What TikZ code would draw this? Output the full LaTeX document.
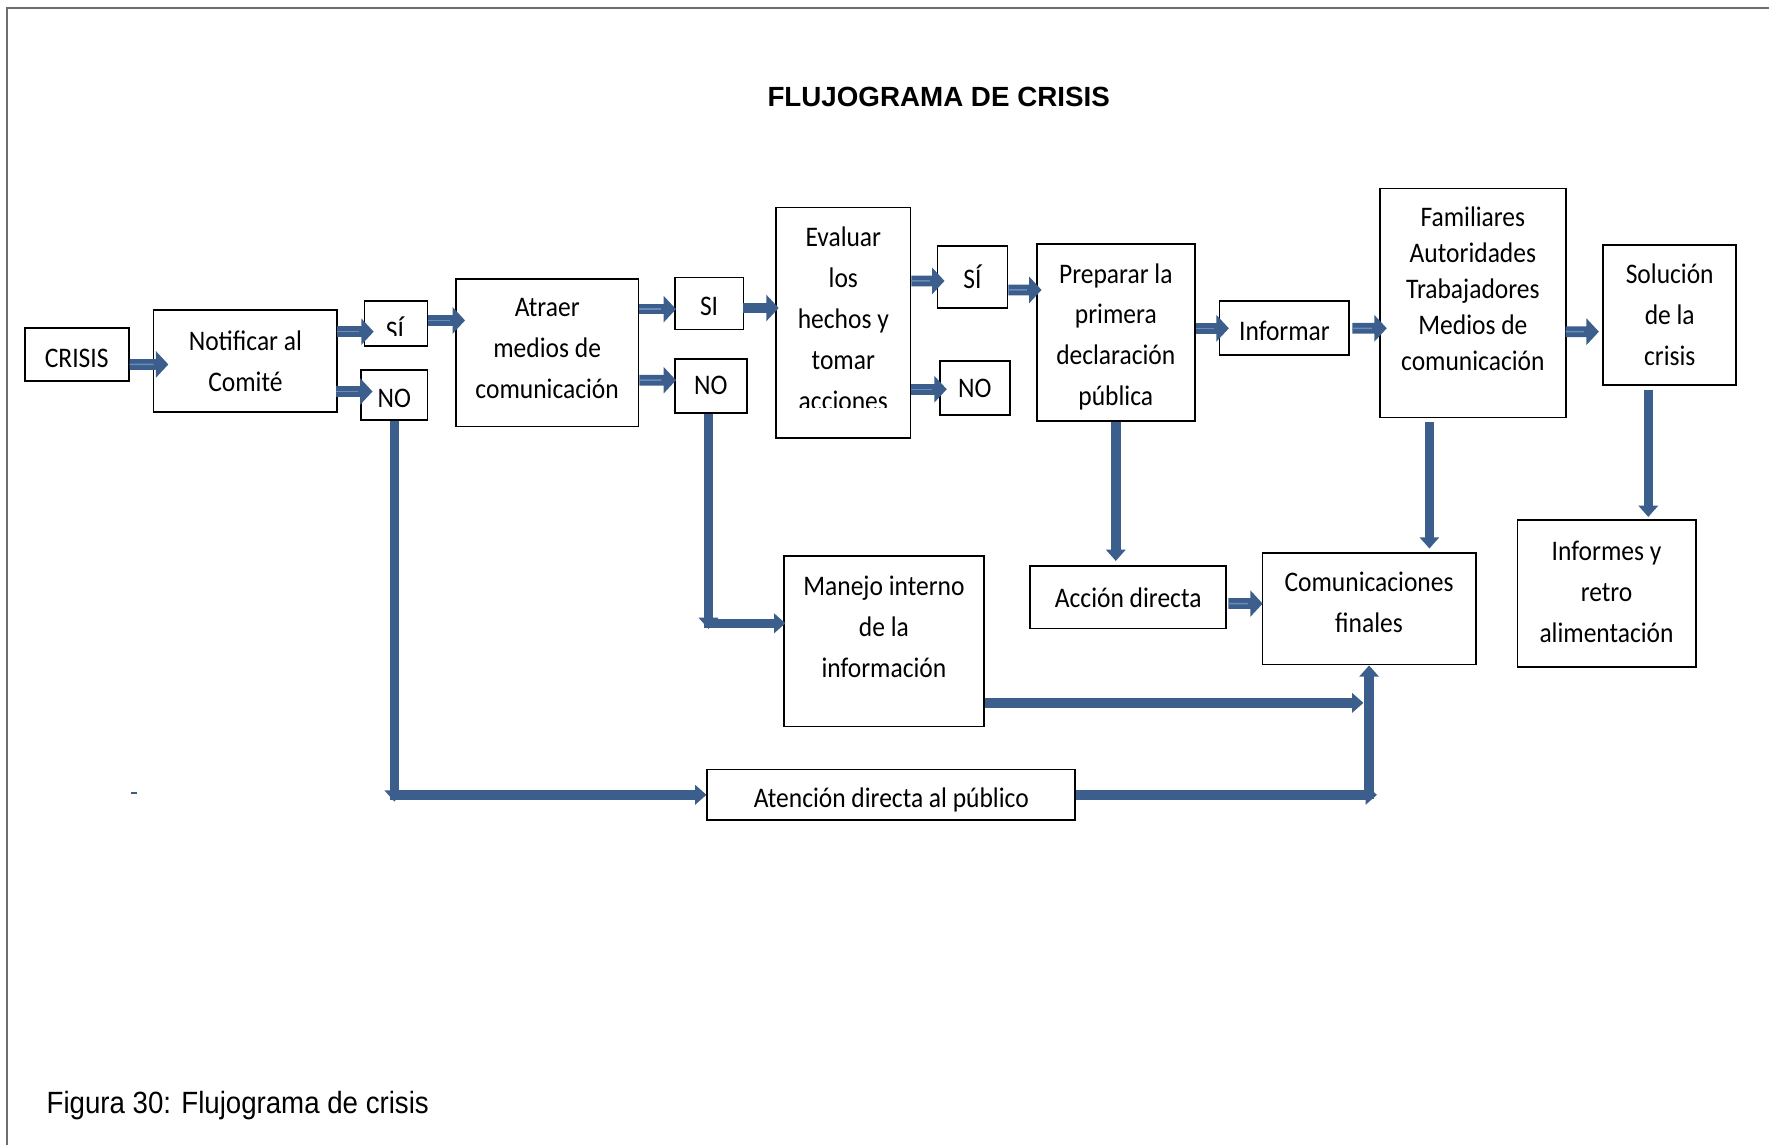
\documentclass[tikz,border=0pt]{standalone}
\usepackage{fontspec}
\setmainfont{Carlito}[FakeStretch=0.9]
\newfontfamily\titulofont{Liberation Sans}
\newfontfamily\piefont{Liberation Sans}[FakeStretch=0.9]
\usetikzlibrary{calc,arrows.meta}
\definecolor{azul}{RGB}{59,94,140}
\definecolor{azulclaro}{RGB}{105,138,186}
\definecolor{marco}{RGB}{110,110,110}
\newdimen\upx \upx=0.02cm
\tikzset{
	caja/.style={draw=black, line width=0.032cm, inner sep=0pt, align=center, font=\fontsize{14.3}{20.6}\selectfont},
	bajo/.style={text height=12.6pt, text depth=0pt},
	texto/.style={inner sep=0pt, align=center, font=\fontsize{14.3}{20.6}\selectfont},
	bloque/.style={azul, line width=0.19cm, -{Triangle[width=0.46cm,length=0.22cm]}},
	raya/.style={azulclaro, line width=0.026cm, shorten >=0.26cm},
	linea/.style={azul, line width=0.17cm, -{Triangle[width=0.34cm,length=0.2cm]}}
}
\def\flecha(#1)(#2){\draw[bloque] (#1) -- (#2); \draw[raya] (#1) -- (#2);}

\begin{document}
\begin{tikzpicture}[x=0.02cm, y=-0.02cm]
			%%%%% START %%%%%
			\useasboundingbox (0,0) rectangle (1568,1015);
			\draw[marco, line width=0.03cm] (6,1015) -- (6,7) -- (1568,7);
			
			\node[font=\titulofont\bfseries\fontsize{14}{16}\selectfont] (titulo) at (832,86) {FLUJOGRAMA DE CRISIS};
			
			\node[caja, bajo, minimum width=92\upx, minimum height=47\upx] (crisis) at (68,314.5) {CRISIS};
			\node[caja, minimum width=163\upx, minimum height=90\upx] (notif) at (217.5,320) {Notificar al\\Comité};
			\node[caja, minimum width=56\upx, minimum height=40\upx] (si1) at (351,287) {};
			\node[caja, bajo, minimum width=59\upx, minimum height=44\upx] (no1) at (349.5,350) {NO};
			\node[caja, minimum width=162\upx, minimum height=131\upx] (atraer) at (485,312.5) {};
			\node[caja, bajo, minimum width=61\upx, minimum height=46\upx] (si2) at (628.5,269) {SI};
			\node[caja, minimum width=64\upx, minimum height=48\upx] (no2) at (630,342) {NO};
			\node[caja, minimum width=119\upx, minimum height=204\upx] (eval) at (747.5,286) {};
			\node[caja, minimum width=62\upx, minimum height=55\upx] (si3) at (862,245.5) {SÍ};
			\node[caja, minimum width=62\upx, minimum height=48\upx] (no3) at (864,344) {NO};
			\node[caja, minimum width=140\upx, minimum height=157\upx] (prep) at (989,294.5) {};
			\node[caja, bajo, minimum width=115\upx, minimum height=48\upx] (inform) at (1138.5,291) {Informar};
			\node[caja, minimum width=165\upx, minimum height=203\upx] (fam) at (1305.5,268.5) {};
			\node[caja, minimum width=118\upx, minimum height=124\upx] (sol) at (1480,279) {Solución\\de la\\crisis};
			\node[caja, minimum width=158\upx, minimum height=130\upx] (infret) at (1424,526) {};
			\node[caja, minimum width=189\upx, minimum height=99\upx] (comfin) at (1213.5,539.5) {};
			\node[caja, minimum width=174\upx, minimum height=55\upx] (accion) at (1000,529.5) {Acción directa};
			\node[caja, minimum width=177\upx, minimum height=151\upx] (manejo) at (783.5,568.5) {};
			\node[caja, bajo, minimum width=326\upx, minimum height=45\upx] (atn) at (790,704.5) {Atención directa al público};
			
			% textos que no van centrados en su caja
			\node[texto] (atraer-t) at ($(atraer.center)+(0,-3.5)$) {Atraer\\medios de\\comunicación};
			\node[texto] (prep-t) at ($(prep.center)+(0,4)$) {Preparar la\\primera\\declaración\\pública};
			\node[texto, font=\fontsize{14.3}{18.2}\selectfont] (fam-t) at ($(fam.center)+(0,-12.5)$) {Familiares\\Autoridades\\Trabajadores\\Medios de\\comunicación};
			\node[texto] (infret-t) at ($(infret.center)+(0,-1.5)$) {Informes y\\retro\\alimentación};
			\node[texto] (comfin-t) at ($(comfin.center)+(0,-5.5)$) {Comunicaciones\\finales};
			\node[texto] (manejo-t) at ($(manejo.center)+(0,-13)$) {Manejo interno\\de la\\información};
			\begin{scope}
				\clip (si1.north west) rectangle ($(si1.east)+(0,10)$);
				\node[texto, anchor=base] (si1-t) at ($(si1.center)+(-1,15)$) {SÍ};
			\end{scope}
			\begin{scope}
				\clip (eval.north west) rectangle ($(eval.east)+(0,75.5)$);
				\node[texto] (eval-t) at ($(eval.center)+(0,-3.5)$) {Evaluar\\los\\hechos y\\tomar\\acciones};
			\end{scope}
			
			% flechas cortas
			\flecha({$(crisis.east)+(0,8.5)$})({$(notif.west)+(14,3)$});
			\flecha({$(notif.east)+(-1,-26)$})({$(si1.west)+(9,7)$});
			\flecha({$(notif.east)+(-2,27)$})({$(no1.west)+(11,-3)$});
			\flecha({$(si1.east)+(0,-3)$})({$(atraer.west)+(9,-28.5)$});
			\flecha({$(atraer.east)+(0,-38.5)$})({$(si2.west)+(2,5)$});
			\flecha({$(atraer.east)+(0,24.5)$})({$(no2.west)+(2,-5)$});
			\draw[bloque] ($(si2.east)+(-1,4)$) -- ($(eval.west)+(3,-13)$);
			\flecha({$(eval.east)+(0,-37)$})({$(si3.west)+(7,3.5)$});
			\flecha({$(eval.east)+(0,59)$})({$(no3.west)+(7,1)$});
			\flecha({$(si3.east)+(0,11.5)$})({$(prep.west)+(5,-37.5)$});
			\flecha({$(prep.east)+(0,-3.5)$})({$(inform.west)+(9,0)$});
			\flecha({$(inform.east)+(2,0)$})({$(fam.west)+(7,22.5)$});
			\flecha({$(fam.east)+(-1,25.5)$})({$(sol.west)+(-3,15)$});
			\flecha({$(accion.east)+(1,5.5)$})({$(comfin.west)+(1,-4.5)$});
			
			% flechas largas
			\coordinate (c1) at (no1.south |- atn.west);
			\draw[linea] (no1.south) -- ($(c1)+(0,6)$);
			\draw[linea] ($(c1)+(-4,0)$) -- (atn.west);
			
			\coordinate (c2) at ($(no2.south |- manejo.west)+(-2,-16)$);
			\draw[linea] ($(no2.south)+(-2,0)$) -- ($(c2)+(0,5)$);
			\draw[linea] ($(c2)+(-4,0)$) -- ($(manejo.west)+(2,-16)$);
			
			\draw[linea] (prep.south) -- ($(prep.south |- accion.north)+(0,-4)$);
			\draw[linea] ($(fam.south)+(-38.5,3)$) -- ($(fam.south |- comfin.north)+(-38.5,-3)$);
			\draw[linea] ($(sol.south)+(-19,4)$) -- ($(sol.south |- infret.north)+(-19,-2)$);
			
			\draw[linea] ($(manejo.east)+(0,54.5)$) -- ($(comfin.south |- manejo.east)+(-5,54.5)$);
			\draw[linea] (atn.east) -- ($(comfin.south |- atn.east)+(7,0)$);
			\draw[linea] ($(comfin.south |- atn.east)+(0,4)$) -- (comfin.south);
			
			\draw[azul, line width=0.024cm] (116,703) -- (121,703);
			
			\node[font=\piefont\fontsize{15.5}{18}\selectfont, anchor=base west, inner sep=0pt] (pie) at (41,987) {Figura 30: Flujograma de crisis};
			%%%%% END %%%%%
\end{tikzpicture}
\end{document}
